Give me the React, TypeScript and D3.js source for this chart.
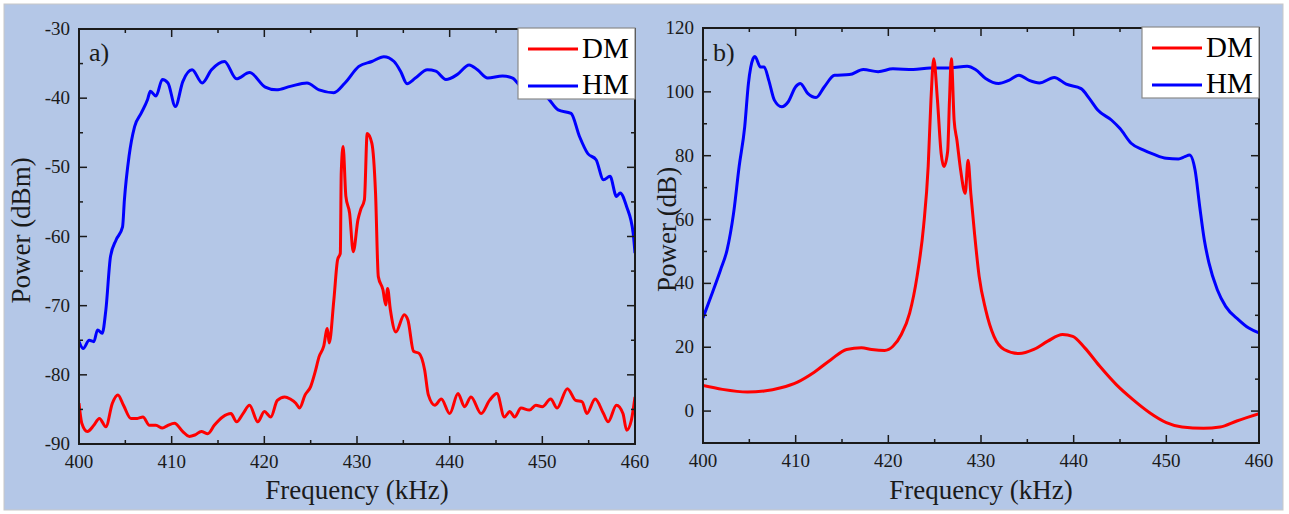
import React from 'react';
import * as d3 from 'd3';

// frequency (kHz), power readings from the figure
const freqTicks = [400, 410, 420, 430, 440, 450, 460];

// panel a) power in dBm
const aHM: [number, number][] = [
  [400, -75.2], [400.45, -76.2], [401.1, -75], [401.6, -75.2], [402, -73.5], [402.5, -74],
  [402.9, -70.6], [403.4, -62.9], [404, -60.5], [404.7, -58.6], [404.9, -54.7], [405.4, -48.4],
  [406, -44.1], [406.7, -42.2], [407.4, -40.2], [407.7, -39], [408.3, -39.7], [409, -37.3],
  [409.6, -37.8], [410.4, -41.2], [411.2, -37.6], [412.2, -35.9], [413.3, -37.8], [414.3, -35.9],
  [415.7, -34.7], [417, -37.2], [418.4, -36.3], [420.1, -38.4], [421.3, -38.8], [422.8, -38.3],
  [424.6, -37.8], [425.9, -38.8], [427.5, -39.2], [428.7, -37.8], [430.2, -35.4], [431.6, -34.7],
  [432.9, -34], [434, -34.7], [434.7, -36.1], [435.4, -37.9], [436.3, -37.1], [437.6, -35.9],
  [438.5, -36.1], [439.6, -37.3], [440.8, -36.6], [442.1, -35.2], [443, -35.9], [444.1, -37.1],
  [445.7, -36.8], [446.8, -37.1], [447.7, -38.3], [449.3, -38.8], [450.6, -40], [451.7, -41.7],
  [453.1, -42.2], [454, -45.5], [454.9, -48], [455.8, -48.9], [456.6, -51.8], [457.3, -51.3],
  [458, -54.2], [458.4, -53.7], [459.1, -55.7], [459.8, -59.5], [460, -62.4],
];
const aDM: [number, number][] = [
  [400, -84.1], [400.3, -87], [400.9, -88.2], [401.6, -87.3], [402.2, -86.3], [402.9, -87.5],
  [403.6, -84.1], [404.2, -82.9], [404.8, -84.4], [405.6, -86.3], [406.3, -86.3], [406.9, -86.1],
  [407.6, -87.3], [408.3, -87.3], [409, -87.7], [409.6, -87.3], [410.3, -87], [411.2, -88.2],
  [411.9, -88.9], [412.5, -88.7], [413.2, -88.2], [413.9, -88.5], [414.6, -87.3], [415.5, -86.1],
  [416.4, -85.6], [417, -86.8], [417.7, -85.6], [418.4, -84.4], [419.3, -86.8], [420, -85.3],
  [420.7, -86.1], [421.4, -83.7], [422.2, -83.2], [422.8, -83.5], [423.4, -84.1], [423.8, -84.8],
  [424.4, -82.9], [425, -81.7], [425.5, -79.5], [425.9, -77.4], [426.4, -75.9], [426.8, -73.3],
  [427, -75.4], [427.5, -69.2], [427.9, -63.4], [428.2, -62.4], [428.3, -50.8], [428.5, -47],
  [428.8, -54.2], [429.2, -56.6], [429.6, -62.2], [430.1, -57.6], [430.4, -56.1], [430.8, -54.7],
  [431.1, -45.1], [431.6, -46.5], [432, -53.7], [432.3, -65.8], [432.8, -67.7], [433.1, -69.9],
  [433.3, -67.5], [433.6, -70.6], [434.2, -73.8], [435.1, -71.3], [435.5, -72.1], [436.1, -76.6],
  [436.7, -76.9], [437.3, -79.3], [437.7, -82.9], [438.4, -84.4], [439.1, -83.5], [440, -85.6],
  [440.9, -82.7], [441.6, -84.6], [442.3, -83.2], [443.4, -85.6], [444.3, -83.7], [445.1, -82.7],
  [445.9, -86.1], [446.5, -85.3], [447, -86.1], [447.7, -84.8], [448.6, -85.1], [449.3, -84.4],
  [450, -84.6], [450.9, -83.5], [451.6, -84.8], [452.7, -82], [453.6, -83.7], [454.3, -83.9],
  [454.8, -85.6], [455.7, -83.5], [456.6, -85.6], [457.1, -86.8], [458, -84.4], [458.7, -85.6],
  [459.1, -88], [459.6, -86.6], [460, -83.2],
];

// panel b) power in dB
const bHM: [number, number][] = [
  [400, 29.2], [401, 37], [401.9, 44.3], [402.6, 50.5], [403.3, 62], [403.9, 76.6], [404.5, 89],
  [404.9, 102.6], [405.4, 110.4], [405.6, 111.1], [406.2, 107.8], [406.6, 107.8], [407.1, 103.6],
  [407.7, 97.4], [408.5, 95.3], [409.2, 96.9], [410, 101.6], [410.5, 102.6], [411.3, 99.5],
  [412.2, 98.2], [413.1, 101.6], [414.2, 105.2], [415.8, 105.4], [417.3, 107], [418.9, 106.3],
  [420.5, 107.2], [422.7, 107], [424.5, 107.5], [426.7, 107.5], [428.5, 108], [429.4, 107],
  [430.5, 104.2], [431.9, 102.6], [433, 103.6], [434.1, 105.2], [435.2, 103.6], [436.3, 102.8],
  [437.9, 104.5], [439.2, 102.4], [440.8, 101], [441.7, 97.9], [442.6, 94.3], [444.1, 91.1],
  [445, 88.5], [446.2, 83.9], [447.5, 81.8], [448.6, 80.5], [450, 79.2], [451.3, 79], [452, 79.7],
  [452.5, 80.2], [453.1, 75.5], [453.6, 64.1], [454.1, 53.6], [454.6, 46.4], [455.5, 38],
  [456.4, 32.8], [457.8, 28.6], [458.9, 26], [460, 24.5],
];
const bDM: [number, number][] = [
  [400, 8], [402.1, 6.8], [404.8, 6], [406.6, 6.3], [408.4, 7.3], [410.2, 9.1], [412, 12.2],
  [413.8, 16.1], [415.5, 19.3], [417.1, 19.8], [418.2, 19.3], [419.6, 19], [420.5, 20.3],
  [421.4, 24], [422.3, 30.7], [423.1, 42.2], [423.8, 57.8], [424.3, 76.6], [424.6, 97.4],
  [424.9, 110.4], [425.3, 97.4], [425.7, 80.7], [426, 76.6], [426.4, 81.3], [426.6, 97.4],
  [426.8, 110.4], [427.1, 91.1], [427.4, 84.9], [427.8, 75.5], [428.3, 68.2], [428.6, 78.6],
  [428.9, 68.2], [429.3, 55.7], [429.8, 42.2], [430.5, 31.8], [431.4, 23.4], [432.5, 19.3],
  [434.1, 18], [435.7, 19.3], [437.2, 21.9], [438.8, 24], [439.9, 23.4], [441.2, 19.8],
  [442.8, 14.1], [444.6, 8.3], [446.4, 3.6], [448.2, -0.5], [450, -3.6], [451.7, -5], [454, -5.4],
  [455.8, -5], [457.6, -3.1], [460, -0.8],
];

const aTicks = [-90, -80, -70, -60, -50, -40, -30];
const bTicks = [0, 20, 40, 60, 80, 100, 120];
const legendNames = ['DM', 'HM'];

const font = '"Liberation Serif", "Times New Roman", serif';
const ink = '#1a1a1a';

function Panel(props) {
  const { left, right, top, bottom, yDomain, yTicks, yMinorStep, dm, hm, tag, yTitle, yTitleX, id } = props;
  const x = d3.scaleLinear().domain([400, 460]).range([left, right]);
  const y = d3.scaleLinear().domain(yDomain).range([bottom, top]);
  const line = d3.line<[number, number]>().x(d => x(d[0])).y(d => y(d[1])).curve(d3.curveMonotoneX);
  const xMinor = d3.range(405, 460, 10);
  const yMinor = d3.range(yTicks[0] - yMinorStep, yDomain[1], yMinorStep * 2).filter(v => v > yDomain[0]);
  const cx = (left + right) / 2;
  const cy = (top + bottom) / 2;
  const legX = right - 117;
  return (
    <g>
      <defs>
        <clipPath id={id}>
          <rect x={left} y={top} width={right - left} height={bottom - top} />
        </clipPath>
      </defs>
      <g clipPath={`url(#${id})`} fill="none" strokeWidth={3} strokeLinejoin="round">
        <path d={line(hm)} stroke="#0000ff" />
        <path d={line(dm)} stroke="#ff0000" />
      </g>
      <g stroke={ink} strokeWidth={1.5}>
        {freqTicks.map(t => (
          <g key={'xt' + t}>
            <line x1={x(t)} x2={x(t)} y1={bottom} y2={bottom - 8} />
            <line x1={x(t)} x2={x(t)} y1={top} y2={top + 8} />
          </g>
        ))}
        {xMinor.map(t => (
          <g key={'xm' + t}>
            <line x1={x(t)} x2={x(t)} y1={bottom} y2={bottom - 4} />
            <line x1={x(t)} x2={x(t)} y1={top} y2={top + 4} />
          </g>
        ))}
        {yTicks.map(t => (
          <g key={'yt' + t}>
            <line x1={left} x2={left + 8} y1={y(t)} y2={y(t)} />
            <line x1={right} x2={right - 8} y1={y(t)} y2={y(t)} />
          </g>
        ))}
        {yMinor.map(t => (
          <g key={'ym' + t}>
            <line x1={left} x2={left + 4} y1={y(t)} y2={y(t)} />
            <line x1={right} x2={right - 4} y1={y(t)} y2={y(t)} />
          </g>
        ))}
        <rect x={left} y={top} width={right - left} height={bottom - top} fill="none" strokeWidth={2} />
      </g>
      <g fontFamily={font} fill={ink} fontSize={19}>
        {freqTicks.map(t => (
          <text key={'xl' + t} x={x(t)} y={bottom + 24} textAnchor="middle">{t}</text>
        ))}
        {yTicks.map(t => (
          <text key={'yl' + t} x={left - 9} y={y(t) + 6} textAnchor="end">{t}</text>
        ))}
      </g>
      <text x={cx} y={499} textAnchor="middle" fontFamily={font} fontSize={27} fill={ink}>Frequency (kHz)</text>
      <text transform={`translate(${yTitleX},${cy - 6}) rotate(-90)`} textAnchor="middle" fontFamily={font} fontSize={27} fill={ink}>{yTitle}</text>
      <text x={left + 10} y={61} fontFamily={font} fontSize={26} fill={ink}>{tag}</text>
      <g>
        <rect x={legX} y={top - 1} width={117} height={71} fill="#ffffff" stroke="#8a8a8a" strokeWidth={1.2} />
        {legendNames.map((n, i) => (
          <g key={n}>
            <line x1={legX + 10} x2={legX + 60} y1={top + 20 + i * 37} y2={top + 20 + i * 37}
              stroke={n === 'DM' ? '#ff0000' : '#0000ff'} strokeWidth={3} />
            <text x={legX + 64} y={top + 29 + i * 36} fontFamily={font} fontSize={29} fill="#000">{n}</text>
          </g>
        ))}
      </g>
    </g>
  );
}

export default function App() {
  return (
    <svg width={1289} height={514} style={{ position: 'absolute', left: 0, top: 0 }}>
      <rect x={0} y={0} width={1289} height={514} fill="#ffffff" />
      <rect x={4} y={4} width={1279} height={506} fill="#b4c7e7" stroke="#c8c8c8" strokeWidth={1} />
      <Panel id="clipA" left={79} right={635} top={29} bottom={444} yDomain={[-90, -30]} yTicks={aTicks}
        yMinorStep={5} dm={aDM} hm={aHM} tag="a)" yTitle="Power (dBm)" yTitleX={30} />
      <Panel id="clipB" left={703} right={1259} top={28} bottom={443} yDomain={[-10, 120]} yTicks={bTicks}
        yMinorStep={10} dm={bDM} hm={bHM} tag="b)" yTitle="Power (dB)" yTitleX={676} />
    </svg>
  );
}
